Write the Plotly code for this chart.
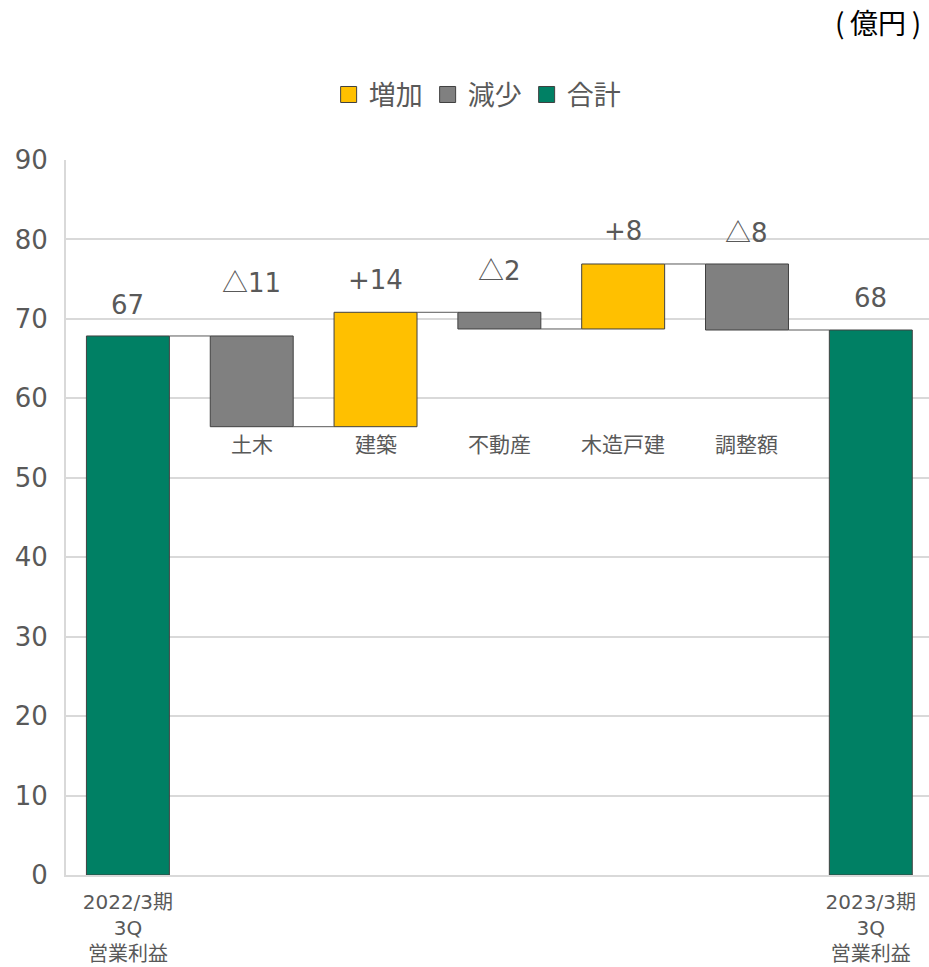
import plotly.graph_objects as go

# ---- data ----
categories = ["2022/3期<br>3Q<br>営業利益", "土木", "建築", "不動産", "木造戸建", "調整額", "2023/3期<br>3Q<br>営業利益"]
start_total = 67.85
changes = [-11.42, 14.40, -2.10, 8.18, -8.31]   # 土木, 建築, 不動産, 木造戸建, 調整額
end_total = 68.60
value_labels = ["67", "△11", "+14", "△2", "+8", "△8", "68"]
legend_names = ["増加", "減少", "合計"]
unit_label = "(\u2009億円\u2009)"

# ---- styles ----
C_UP = "#FFC000"
C_DOWN = "#808080"
C_TOTAL = "#008064"
C_EDGE = "#404040"
C_TEXT = "#595959"
C_GRID = "#D9D9D9"
FONT = "DejaVu Sans, Noto Sans CJK JP, sans-serif"
CJK = "Noto Sans CJK JP"
BAR_W = 0.67
label_shift = [31, 55, 32, 44, 33, 33, 32]

# ---- compute bars ----
n = len(categories)
bases, heights, kinds = [], [], []
bases.append(0); heights.append(start_total); kinds.append("total")
level = start_total
levels = [start_total]
for c in changes:
    if c >= 0:
        bases.append(level); heights.append(c); kinds.append("up")
    else:
        bases.append(level + c); heights.append(-c); kinds.append("down")
    level += c
    levels.append(level)
bases.append(0); heights.append(end_total); kinds.append("total")

fig = go.Figure()
colors = {"up": C_UP, "down": C_DOWN, "total": C_TOTAL}
for k in ["up", "down", "total"]:
    idx = [i for i in range(n) if kinds[i] == k]
    fig.add_trace(go.Bar(
        x=idx, y=[heights[i] for i in idx], base=[bases[i] for i in idx],
        width=BAR_W, marker=dict(color=colors[k], line=dict(color=C_EDGE, width=1)),
        showlegend=False, hoverinfo="skip"))

# connectors
for i in range(n - 1):
    lv = levels[i]
    fig.add_trace(go.Scatter(
        x=[i + BAR_W / 2, i + 1 - BAR_W / 2], y=[lv, lv], mode="lines",
        line=dict(color=C_TEXT, width=1), showlegend=False, hoverinfo="skip"))

# legend entries
for name, k in zip(legend_names, ["up", "down", "total"]):
    fig.add_trace(go.Scatter(
        x=[None], y=[None], mode="markers", name=name,
        marker=dict(symbol="square", size=19, color=colors[k], line=dict(color=C_EDGE, width=1))))


def fmt(s):
    return s.replace("△", f'<span style="font-family:{CJK}">△</span>')


annotations = []
for i in range(n):
    top = bases[i] + heights[i]
    annotations.append(dict(x=i, y=top, xref="x", yref="y", text=fmt(value_labels[i]),
                            showarrow=False, yshift=label_shift[i], yanchor="middle",
                            font=dict(size=26, color=C_TEXT, family=FONT)))
for i in range(1, n - 1):
    annotations.append(dict(x=i, y=54.1, xref="x", yref="y", text=categories[i],
                            showarrow=False, yanchor="middle",
                            font=dict(size=21, color=C_TEXT, family=FONT)))
annotations.append(dict(x=1, y=1, xref="paper", yref="paper", text=unit_label,
                        xanchor="right", yanchor="middle", xshift=-6, yshift=138,
                        showarrow=False, font=dict(size=28, color="#000000", family=CJK)))

ticktext = [categories[0]] + [""] * (n - 2) + [categories[-1]]

fig.update_layout(
    width=929, height=967,
    margin=dict(l=66, r=0, t=160, b=92),
    plot_bgcolor="white", paper_bgcolor="white",
    barmode="overlay",
    font=dict(family=FONT, color=C_TEXT),
    showlegend=True,
    legend=dict(orientation="h", x=0.4764, xanchor="center", y=1.091, yanchor="middle",
                font=dict(size=27, color=C_TEXT, family=FONT)),
    annotations=annotations,
    xaxis=dict(range=[-0.5, 6.47], tickvals=list(range(n)), ticktext=ticktext,
               showgrid=False, showline=True, linecolor=C_GRID, linewidth=2,
               tickfont=dict(size=20, color=C_TEXT, family=FONT), zeroline=False,
               ticklabelstandoff=8, automargin=False, fixedrange=True),
    yaxis=dict(range=[0, 90], dtick=10, showgrid=True, gridcolor=C_GRID, gridwidth=2,
               showline=True, linecolor=C_GRID, linewidth=2, zeroline=False,
               tickfont=dict(size=26, color=C_TEXT, family=FONT), ticklabelstandoff=11,
               automargin=False),
)

fig.write_html("out.html", config={"displayModeBar": False},
               post_script="document.body.style.margin='0';document.body.style.overflow='hidden';")
